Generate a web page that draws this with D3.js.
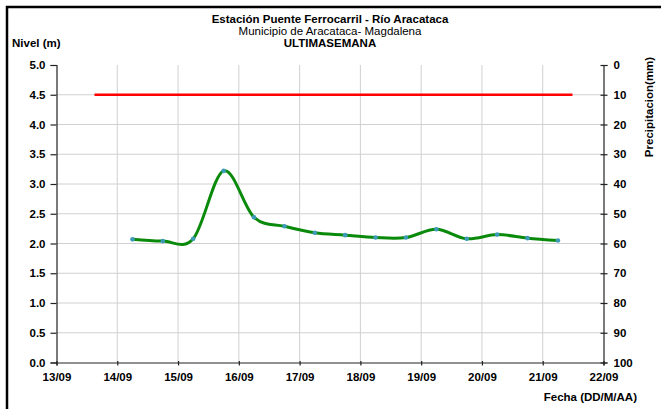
<!DOCTYPE html>
<html>
<head>
<meta charset="utf-8">
<script src="https://cdn.jsdelivr.net/npm/d3@7"></script>
<style>
  html, body { margin: 0; padding: 0; background: #fff; }
  svg { display: block; font-family: "Liberation Sans", Arial, sans-serif; }
</style>
</head>
<body>
<svg id="chart" width="661" height="409"></svg>
<script>
// ---- Data ----
const titleLines = ["Estación Puente Ferrocarril - Río Aracataca", "Municipio de Aracataca- Magdalena", "ULTIMASEMANA"];
const levelDates = ["2024-09-14T06:00","2024-09-14T18:00","2024-09-15T06:00","2024-09-15T18:00",
  "2024-09-16T06:00","2024-09-16T18:00","2024-09-17T06:00","2024-09-17T18:00","2024-09-18T06:00",
  "2024-09-18T18:00","2024-09-19T06:00","2024-09-19T18:00","2024-09-20T06:00","2024-09-20T18:00",
  "2024-09-21T06:00"];
const levelValues = [2.07, 2.04, 2.08, 3.22, 2.44, 2.29, 2.18, 2.14, 2.10, 2.10, 2.24, 2.08, 2.15, 2.09, 2.05];
const thresholdDates = ["2024-09-13T15:00", "2024-09-21T11:45"];
const thresholdValues = [4.5, 4.5];
const xTickLabels = ["13/09","14/09","15/09","16/09","17/09","18/09","19/09","20/09","21/09","22/09"];
const yLeftTicks = [0,0.5,1,1.5,2,2.5,3,3.5,4,4.5,5];
const yRightTicks = [0,10,20,30,40,50,60,70,80,90,100];

// ---- Layout ----
const svg = d3.select("#chart");
const parse = d3.timeParse("%Y-%m-%dT%H:%M");
const x0 = parse("2024-09-13T00:00"), x1 = parse("2024-09-22T00:00");
const x = d3.scaleTime().domain([x0, x1]).range([56.5, 603.5]);
const y = d3.scaleLinear().domain([0, 5]).range([362.5, 65]);
const yR = d3.scaleLinear().domain([0, 100]).range([65, 362.5]);

// outer frame (top and left)
svg.append("path").attr("d", "M7,409 V7 H661").attr("fill", "none")
  .attr("stroke", "#000").attr("stroke-width", 2.5);

// gridlines
const dayTicks = d3.timeDay.range(x0, d3.timeDay.offset(x1, 1));
svg.append("g").selectAll("line").data(dayTicks.slice(1, -1)).join("line")
  .attr("x1", d => x(d)).attr("x2", d => x(d)).attr("y1", y(5)).attr("y2", y(0))
  .attr("stroke", "#d0d0d0").attr("stroke-width", 1);
svg.append("g").selectAll("line").data(yLeftTicks.slice(1, -1)).join("line")
  .attr("x1", x(x0)).attr("x2", x(x1)).attr("y1", d => y(d)).attr("y2", d => y(d))
  .attr("stroke", "#d0d0d0").attr("stroke-width", 1);

// axes
const axL = svg.append("g").attr("transform", `translate(${x(x0)},0)`)
  .call(d3.axisLeft(y).tickValues(yLeftTicks).tickFormat(d3.format(".1f")).tickSize(6).tickPadding(5));
const axR = svg.append("g").attr("transform", `translate(${x(x1)},0)`)
  .call(d3.axisRight(yR).tickValues(yRightTicks).tickSize(4).tickPadding(6));
axR.selectAll(".tick line").attr("x1", -3);
const axB = svg.append("g").attr("transform", `translate(0,${y(0)})`)
  .call(d3.axisBottom(x).tickValues(dayTicks.slice(0, 10)).tickFormat((d, i) => xTickLabels[i]).tickSize(3).tickPadding(5));
axB.selectAll(".tick line").attr("y1", -1.5);
[axL, axR, axB].forEach(a => {
  a.select(".domain").attr("stroke", "#222").attr("stroke-width", 1.2);
  a.selectAll(".tick line").attr("stroke", "#222").attr("stroke-width", 1.2);
  a.selectAll("text").attr("font-size", 11.5).attr("font-weight", "bold").attr("fill", "#000")
    .attr("font-family", "Liberation Sans, Arial, sans-serif");
});
axB.selectAll("text").attr("dy", "0.9em");

// threshold line
const thr = thresholdDates.map((d, i) => [parse(d), thresholdValues[i]]);
svg.append("path").datum(thr)
  .attr("d", d3.line().x(d => x(d[0])).y(d => y(d[1])))
  .attr("stroke", "#ff0000").attr("stroke-width", 2.5).attr("fill", "none");

// level series
const lev = levelDates.map((d, i) => [parse(d), levelValues[i]]);
svg.append("path").datum(lev)
  .attr("d", d3.line().curve(d3.curveCardinal.tension(0)).x(d => x(d[0])).y(d => y(d[1])))
  .attr("stroke", "#0a8a0a").attr("stroke-width", 3).attr("fill", "none");
svg.append("g").selectAll("circle").data(lev).join("circle")
  .attr("cx", d => x(d[0])).attr("cy", d => y(d[1])).attr("r", 2.3)
  .attr("fill", "#3d9bb8");

// titles
const t = svg.append("g").attr("text-anchor", "middle").attr("fill", "#000");
t.append("text").attr("x", 330).attr("y", 23).attr("font-size", 11.5).attr("font-weight", "bold").text(titleLines[0]);
t.append("text").attr("x", 330).attr("y", 35).attr("font-size", 11.5).text(titleLines[1]);
t.append("text").attr("x", 330).attr("y", 47).attr("font-size", 11.5).attr("font-weight", "bold").text(titleLines[2]);

svg.append("text").attr("x", 12).attr("y", 47).attr("font-size", 11.5).attr("font-weight", "bold").text("Nivel (m)");
svg.append("text").attr("transform", "translate(653,107) rotate(-90)").attr("text-anchor", "middle")
  .attr("font-size", 11.5).attr("font-weight", "bold").text("Precipitacion(mm)");
svg.append("text").attr("x", 637).attr("y", 401).attr("text-anchor", "end")
  .attr("font-size", 11.5).attr("font-weight", "bold").text("Fecha (DD/M/AA)");
</script>
</body>
</html>
